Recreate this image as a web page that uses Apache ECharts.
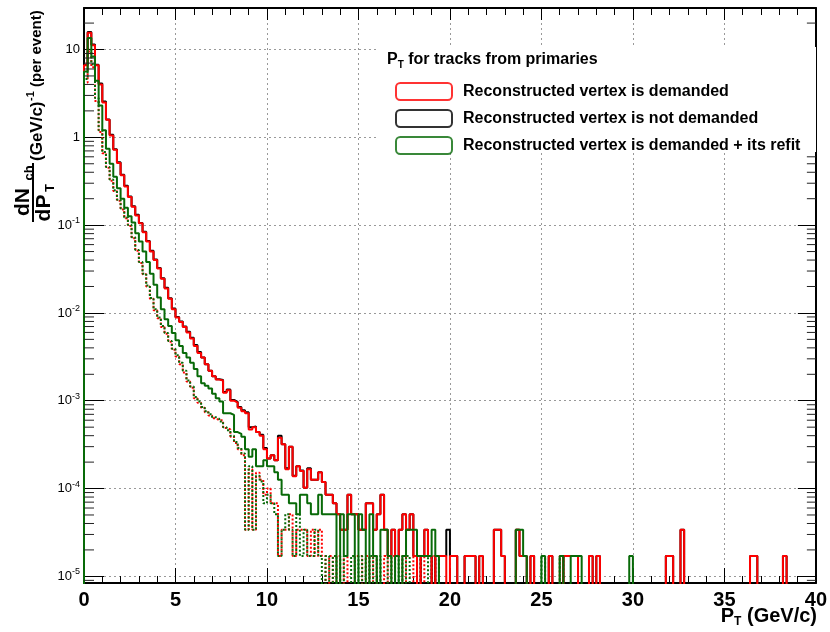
<!DOCTYPE html>
<html><head><meta charset="utf-8">
<script src="https://cdn.jsdelivr.net/npm/echarts@6/dist/echarts.min.js"></script>
<style>html,body{margin:0;padding:0;background:#fff}#c{width:830px;height:632px}</style>
</head><body><div id="c"></div>
<script>
// ---- data (0.2 GeV/c bins from 0 to 40) ----
const binWidth = 0.2;
const xMin = 0, xMax = 40, xStep = 5;
const yMin = 8.4e-6, yMax = 29.7;
const legendTitle = ['P', 'T', ' for tracks from primaries'];
const legendNames = ['Reconstructed vertex is demanded', 'Reconstructed vertex is not demanded', 'Reconstructed vertex is demanded + its refit'];

const vtxDemanded = [
  6.6, 15.5, 11.2, 6.6, 4.0, 2.5, 1.58, 1.05, 0.72, 0.51,
  0.37, 0.275, 0.209, 0.162, 0.129, 0.105, 0.083, 0.065, 0.050, 0.040,
  0.032, 0.0245, 0.019, 0.0145, 0.011, 0.0089, 0.0079, 0.0069, 0.0060, 0.0051,
  0.0042, 0.0035, 0.0031, 0.0026, 0.0022, 0.0019, 0.00174, 0.0017, 0.00123, 0.00132,
  0.001, 0.00095, 0.00083, 0.00076, 0.00072, 0.00047, 0.0005, 0.00044, 0.0004, 0.00028,
  0.00022, 0.00024, 0.00021, 0.00038, 0.00032, 0.000166, 0.0003, 0.000138, 0.00018, 0.000158,
  0.000102, 0.000166, 0.000126, 0.000126, 0.000153, 0.000119, 8.5e-5, 8.5e-5, 6.8e-5, 5.1e-5,
  3.4e-5, 3.4e-5, 8.5e-5, 5.1e-5, 5.1e-5, 3.4e-5, 3.4e-5, 6.8e-5, 6.8e-5, 3.4e-5,
  5.1e-5, 8.5e-5, 3.4e-5, 1.7e-5, 3.4e-5, 1.7e-5, 3.4e-5, 5.1e-5, 3.4e-5, 5.1e-5,
  1.7e-5, 0, 1.7e-5, 3.4e-5, 1.7e-5, 0, 1.7e-5, 1.7e-5, 1.7e-5, 0,
  1.7e-5, 1.7e-5, 0, 0, 1.7e-5, 1.7e-5, 1.7e-5, 0, 1.7e-5, 0,
  0, 0, 3.4e-5, 3.4e-5, 1.7e-5, 0, 0, 0, 3.4e-5, 1.7e-5,
  1.7e-5, 0, 1.7e-5, 0, 0, 0, 0, 1.7e-5, 0, 0,
  0, 1.7e-5, 1.7e-5, 1.7e-5, 1.7e-5, 0, 0, 0, 1.7e-5, 0,
  1.7e-5, 0, 0, 0, 0, 0, 0, 0, 0, 0,
  0, 0, 0, 0, 0, 0, 0, 0, 0, 1.7e-5,
  1.7e-5, 0, 0, 3.4e-5, 0, 0, 0, 0, 0, 0,
  0, 0, 0, 0, 0, 0, 0, 0, 0, 0,
  0, 0, 1.7e-5, 1.7e-5, 0, 0, 0, 0, 0, 0,
  0, 1.7e-5, 0, 0, 0, 0, 0, 0, 0, 0
];
const vtxNotDemanded = [
  6.7, 15.8, 11.4, 6.7, 4.1, 2.55, 1.6, 1.07, 0.73, 0.52,
  0.375, 0.28, 0.212, 0.164, 0.131, 0.106, 0.084, 0.066, 0.051, 0.0405,
  0.0325, 0.0248, 0.0193, 0.0147, 0.0112, 0.009, 0.008, 0.007, 0.0061, 0.0052,
  0.0043, 0.0036, 0.0031, 0.0026, 0.0022, 0.0019, 0.00176, 0.00172, 0.00126, 0.00134,
  0.00102, 0.00097, 0.00085, 0.00078, 0.00074, 0.0005, 0.00051, 0.00044, 0.00041, 0.00029,
  0.00022, 0.00024, 0.00021, 0.0004, 0.00032, 0.00017, 0.0003, 0.00014, 0.00018, 0.00016,
  0.000102, 0.00017, 0.000126, 0.000126, 0.000153, 0.000119, 8.5e-5, 8.5e-5, 6.8e-5, 5.1e-5,
  3.4e-5, 3.4e-5, 8.5e-5, 5.1e-5, 5.1e-5, 3.4e-5, 3.4e-5, 6.8e-5, 6.8e-5, 3.4e-5,
  5.1e-5, 8.5e-5, 3.4e-5, 1.7e-5, 3.4e-5, 1.7e-5, 3.4e-5, 5.1e-5, 3.4e-5, 5.1e-5,
  1.7e-5, 0, 1.7e-5, 3.4e-5, 1.7e-5, 0, 1.7e-5, 1.7e-5, 1.7e-5, 3.4e-5,
  1.7e-5, 1.7e-5, 0, 0, 1.7e-5, 1.7e-5, 1.7e-5, 0, 1.7e-5, 0,
  0, 0, 3.4e-5, 3.4e-5, 1.7e-5, 0, 0, 0, 3.4e-5, 1.7e-5,
  1.7e-5, 0, 1.7e-5, 0, 0, 0, 0, 1.7e-5, 0, 0,
  0, 1.7e-5, 1.7e-5, 1.7e-5, 1.7e-5, 0, 0, 0, 1.7e-5, 0,
  1.7e-5, 0, 0, 0, 0, 0, 0, 0, 0, 0,
  0, 0, 0, 0, 0, 0, 0, 0, 0, 1.7e-5,
  1.7e-5, 0, 0, 3.4e-5, 0, 0, 0, 0, 0, 0,
  0, 0, 0, 0, 0, 0, 0, 0, 0, 0,
  0, 0, 1.7e-5, 1.7e-5, 0, 0, 0, 0, 0, 0,
  0, 1.7e-5, 0, 0, 0, 0, 0, 0, 0, 0
];
const vtxRefit = [
  5.6, 13.5, 8.3, 4.4, 2.3, 1.2, 0.74, 0.50, 0.355, 0.263,
  0.20, 0.158, 0.126, 0.107, 0.081, 0.065, 0.050, 0.038, 0.028, 0.021,
  0.015, 0.011, 0.0085, 0.0071, 0.0059, 0.0049, 0.0042, 0.0035, 0.0031, 0.0027,
  0.0023, 0.0019, 0.00158, 0.00148, 0.00138, 0.0012, 0.00107, 0.00098, 0.00072, 0.00072,
  0.00069, 0.00044, 0.00042, 0.00039, 0.00028, 0.00023, 0.00028, 0.00018, 0.00018, 0.00021,
  0.00018, 0.00018, 0.000153, 0.000126, 8.5e-5, 8.5e-5, 6.8e-5, 6.8e-5, 5.1e-5, 8.5e-5,
  8.5e-5, 6.8e-5, 5.1e-5, 5.1e-5, 8.5e-5, 5.1e-5, 5.1e-5, 5.1e-5, 5.1e-5, 0,
  5.1e-5, 1.7e-5, 5.1e-5, 5.1e-5, 0, 5.1e-5, 3.4e-5, 0, 5.1e-5, 1.7e-5,
  0, 3.4e-5, 3.4e-5, 1.7e-5, 0, 1.7e-5, 0, 1.7e-5, 3.4e-5, 3.4e-5,
  3.4e-5, 1.7e-5, 1.7e-5, 1.7e-5, 1.7e-5, 3.4e-5, 1.7e-5, 0, 0, 0,
  0, 0, 0, 0, 0, 0, 0, 0, 0, 0,
  0, 0, 0, 0, 0, 0, 0, 0, 3.4e-5, 3.4e-5,
  1.7e-5, 0, 0, 0, 0, 1.7e-5, 0, 0, 0, 0,
  1.7e-5, 0, 0, 1.7e-5, 1.7e-5, 1.7e-5, 0, 0, 0, 0,
  0, 0, 0, 0, 0, 0, 0, 0, 0, 1.7e-5,
  0, 0, 0, 0, 0, 0, 0, 0, 0, 0,
  0, 0, 0, 0, 0, 0, 0, 0, 0, 0,
  0, 0, 0, 0, 0, 0, 0, 0, 0, 0,
  0, 0, 0, 0, 0, 0, 0, 0, 0, 0,
  0, 0, 0, 0, 0, 0, 0, 0, 0, 0
];
// lower dotted curves (not in the legend)
const dottedRed = [
  4.2, 9.5, 6.3, 2.6, 1.15, 0.66, 0.45, 0.32, 0.245, 0.19,
  0.151, 0.120, 0.098, 0.071, 0.051, 0.037, 0.0275, 0.020, 0.0145, 0.0107,
  0.0087, 0.0069, 0.0058, 0.0047, 0.0038, 0.0032, 0.0026, 0.0021, 0.00166, 0.00141,
  0.00107, 0.00095, 0.00083, 0.00074, 0.00068, 0.00063, 0.0006, 0.0006, 0.00049, 0.00047,
  0.00039, 0.00033, 0.00028, 0.00024, 3.4e-5, 0.000166, 3.4e-5, 0.000151, 0.000126, 8.5e-5,
  0.0001, 6.8e-5, 6.8e-5, 1.7e-5, 3.4e-5, 3.4e-5, 5.1e-5, 1.7e-5, 3.4e-5, 3.4e-5,
  3.4e-5, 1.7e-5, 3.4e-5, 1.7e-5, 3.4e-5, 1.7e-5, 0, 1.7e-5, 0, 1.7e-5,
  0, 1.7e-5, 0, 0, 1.7e-5, 1.7e-5, 0, 1.7e-5, 0, 1.7e-5,
  0, 0, 1.7e-5, 0, 1.7e-5, 0, 0, 1.7e-5, 0, 0,
  1.7e-5, 0, 1.7e-5, 0, 0, 1.7e-5, 0, 0, 0, 0,
  0, 0, 0, 0, 0, 0, 0, 0, 0, 0,
  0, 0, 0, 0, 0, 0, 0, 0, 0, 0,
  0, 0, 0, 0, 0, 0, 0, 0, 0, 0,
  1.7e-5, 0, 0, 0, 0, 0, 0, 0, 0, 0,
  0, 0, 0, 0, 0, 0, 0, 0, 0, 0,
  0, 0, 0, 0, 0, 0, 0, 0, 0, 0,
  0, 0, 0, 0, 0, 0, 0, 0, 0, 0,
  0, 0, 0, 0, 0, 0, 0, 0, 0, 0,
  0, 0, 0, 0, 0, 0, 0, 0, 0, 0,
  0, 0, 0, 0, 0, 0, 0, 0, 0, 0
];
const dottedGreen = [
  4.6, 10.2, 6.8, 2.8, 1.2, 0.68, 0.46, 0.33, 0.25, 0.195,
  0.155, 0.122, 0.100, 0.073, 0.052, 0.038, 0.028, 0.0205, 0.0148, 0.011,
  0.0089, 0.0071, 0.0059, 0.0048, 0.0039, 0.0033, 0.0027, 0.0022, 0.0017, 0.00145,
  0.0011, 0.00098, 0.00085, 0.00076, 0.0007, 0.00065, 0.00062, 0.00058, 0.0005, 0.00046,
  0.0004, 0.00034, 0.00029, 0.00025, 3.4e-5, 0.00018, 3.4e-5, 0.00014, 0.00012, 6.8e-5,
  8.5e-5, 6.8e-5, 5.1e-5, 1.7e-5, 3.4e-5, 5.1e-5, 3.4e-5, 1.7e-5, 5.1e-5, 1.7e-5,
  3.4e-5, 1.7e-5, 1.7e-5, 3.4e-5, 1.7e-5, 0, 1.7e-5, 0, 1.7e-5, 0,
  1.7e-5, 0, 0, 1.7e-5, 0, 1.7e-5, 0, 0, 1.7e-5, 0,
  1.7e-5, 0, 0, 1.7e-5, 0, 0, 1.7e-5, 0, 1.7e-5, 0,
  0, 1.7e-5, 0, 0, 1.7e-5, 0, 1.7e-5, 0, 0, 0,
  0, 0, 0, 0, 0, 0, 0, 0, 0, 0,
  0, 0, 0, 0, 0, 0, 0, 0, 0, 0,
  0, 0, 0, 0, 0, 1.7e-5, 0, 0, 0, 0,
  1.7e-5, 0, 0, 0, 0, 0, 0, 0, 0, 0,
  0, 0, 0, 0, 0, 0, 0, 0, 0, 0,
  0, 0, 0, 0, 0, 0, 0, 0, 0, 0,
  0, 0, 0, 0, 0, 0, 0, 0, 0, 0,
  0, 0, 0, 0, 0, 0, 0, 0, 0, 0,
  0, 0, 0, 0, 0, 0, 0, 0, 0, 0,
  0, 0, 0, 0, 0, 0, 0, 0, 0, 0
];

const RED = '#ff0000', BLACK = '#000000', GREEN = '#086a08';
const FONT = '"Liberation Sans", Arial, Helvetica, sans-serif';
const FLOOR = 1e-9; // empty bins fall below the axis and get clipped

function histPoints(vals) {
  const pts = [[xMin, FLOOR]];
  vals.forEach((v, i) => pts.push([+(i * binWidth).toFixed(2), v > 0 ? v : FLOOR]));
  const last = vals[vals.length - 1];
  pts.push([xMax, last > 0 ? last : FLOOR]);
  return pts;
}
function histSeries(name, vals, color, dash, z) {
  return {
    name: name, type: 'line', step: 'end', data: histPoints(vals),
    showSymbol: false, symbol: 'none', clip: true, z: z, silent: true,
    lineStyle: { color: color, width: 2, type: dash ? [2, 2] : 'solid', dashOffset: dash === 2 ? 2 : 0 },
    emphasis: { disabled: true }
  };
}
const yMinorVals = [];
for (let e = -6; e <= 1; e++) for (let m = 2; m <= 9; m++) {
  const v = m * Math.pow(10, e);
  if (v > yMin && v < yMax) yMinorVals.push(v);
}
function yLabel(v) {
  const e = Math.log10(v), r = Math.round(e);
  if (Math.abs(e - r) > 1e-6) return '';
  if (r === 0) return '{b|1}';
  if (r === 1) return '{b|10}';
  return '{b|10}{s|' + r + '}';
}

const chart = echarts.init(document.getElementById('c'), null, { renderer: 'canvas' });
const legendColors = [RED, BLACK, GREEN];
const option = {
  animation: false,
  backgroundColor: '#ffffff',
  grid: { left: 84, right: 12, top: 8, bottom: 49, containLabel: false },
  xAxis: [
    { type: 'value', min: xMin, max: xMax, interval: xStep, position: 'bottom',
      axisLine: { show: true, onZero: false, lineStyle: { color: '#000', width: 2 } },
      axisTick: { show: true, inside: true, length: 15, lineStyle: { color: '#000', width: 1 } },
      minorTick: { show: true, splitNumber: 5, length: 7, lineStyle: { color: '#000', width: 1 } },
      axisLabel: { show: true, margin: 7, color: '#000', fontFamily: FONT, fontWeight: 'bold', fontSize: 20 },
      splitLine: { show: true, lineStyle: { color: '#999', width: 1, type: [2, 3] } } },
    { type: 'value', min: xMin, max: xMax, interval: xStep, position: 'top',
      axisLine: { show: true, onZero: false, lineStyle: { color: '#000', width: 2 } },
      axisTick: { show: true, inside: true, length: 12, lineStyle: { color: '#000', width: 1 } },
      minorTick: { show: true, splitNumber: 5, length: 7, lineStyle: { color: '#000', width: 1 } },
      axisLabel: { show: false }, splitLine: { show: false } }
  ],
  yAxis: [
    { type: 'log', logBase: 10, min: yMin, max: yMax, position: 'left',
      axisLine: { show: true, onZero: false, lineStyle: { color: '#000', width: 2 } },
      axisTick: { show: true, inside: true, length: 20, lineStyle: { color: '#000', width: 1 } },
      axisLabel: { show: true, margin: 4, formatter: yLabel, color: '#000',
        rich: { b: { fontFamily: FONT, fontSize: 13, lineHeight: 18, color: '#000' },
                s: { fontFamily: FONT, fontSize: 9, verticalAlign: 'top', color: '#000' } } },
      splitLine: { show: true, lineStyle: { color: '#999', width: 1, type: [2, 3] } } },
    { type: 'log', logBase: 10, min: yMin, max: yMax, position: 'right',
      axisLine: { show: true, onZero: false, lineStyle: { color: '#000', width: 2 } },
      axisTick: { show: true, inside: true, length: 18, lineStyle: { color: '#000', width: 1 } },
      axisLabel: { show: false }, splitLine: { show: false } }
  ],
  legend: {
    show: true, orient: 'vertical', left: 390, top: 77, itemWidth: 56, itemHeight: 17, itemGap: 8,
    z: 10, selectedMode: false,
    data: legendNames.map((n, i) => ({ name: n, icon: 'roundRect',
      itemStyle: { color: '#fff', borderColor: legendColors[i], borderWidth: 2 } })),
    textStyle: { fontFamily: FONT, fontWeight: 'bold', fontSize: 16, color: '#000', padding: [0, 0, 0, 6] }
  },
  graphic: [
    { type: 'rect', shape: { x: 378, y: 47, width: 438, height: 105 }, style: { fill: '#fff' }, z: 8, silent: true },
    { type: 'text', x: 387, y: 60, z: 11, silent: true,
      style: { text: '{b|' + legendTitle[0] + '}{s|' + legendTitle[1] + '}{b|' + legendTitle[2] + '}',
        verticalAlign: 'middle', align: 'left',
        rich: { b: { fontFamily: FONT, fontWeight: 'bold', fontSize: 16, lineHeight: 20, fill: '#000' },
                s: { fontFamily: FONT, fontWeight: 'bold', fontSize: 10, verticalAlign: 'bottom', fill: '#000' } } } },
    // x axis title
    { type: 'text', x: 817, y: 616, silent: true,
      style: { text: '{b|P}{s|T}{b| (GeV/c)}', align: 'right', verticalAlign: 'middle',
        rich: { b: { fontFamily: FONT, fontWeight: 'bold', fontSize: 20, lineHeight: 24, fill: '#000' },
                s: { fontFamily: FONT, fontWeight: 'bold', fontSize: 12, verticalAlign: 'bottom', fill: '#000' } } } },
    // y axis title (rotated)
    { type: 'text', x: 23, y: 202, rotation: Math.PI / 2, silent: true,
      style: { text: 'dN', font: 'bold 21px ' + FONT, align: 'center', verticalAlign: 'middle', fill: '#000' } },
    { type: 'text', x: 29, y: 173, rotation: Math.PI / 2, silent: true,
      style: { text: 'ch', font: 'bold 13px ' + FONT, align: 'center', verticalAlign: 'middle', fill: '#000' } },
    { type: 'line', shape: { x1: 33, y1: 163, x2: 33, y2: 222 }, style: { stroke: '#000', lineWidth: 2 }, silent: true },
    { type: 'text', x: 44, y: 208, rotation: Math.PI / 2, silent: true,
      style: { text: 'dP', font: 'bold 21px ' + FONT, align: 'center', verticalAlign: 'middle', fill: '#000' } },
    { type: 'text', x: 50, y: 188, rotation: Math.PI / 2, silent: true,
      style: { text: 'T', font: 'bold 13px ' + FONT, align: 'center', verticalAlign: 'middle', fill: '#000' } },
    { type: 'text', x: 37, y: 161, rotation: Math.PI / 2, silent: true,
      style: { text: '(GeV/c)', font: 'bold 17px ' + FONT, align: 'left', verticalAlign: 'middle', fill: '#000' } },
    { type: 'text', x: 31, y: 96, rotation: Math.PI / 2, silent: true,
      style: { text: '-1', font: 'bold 11px ' + FONT, align: 'center', verticalAlign: 'middle', fill: '#000' } },
    { type: 'text', x: 37, y: 87, rotation: Math.PI / 2, silent: true,
      style: { text: '(per event)', font: 'bold 15px ' + FONT, align: 'left', verticalAlign: 'middle', fill: '#000' } }
  ],
  series: [
    histSeries('dotted red', dottedRed, RED, 1, 2),
    histSeries('dotted green', dottedGreen, GREEN, 2, 2),
    histSeries('not demanded line', vtxNotDemanded, BLACK, 0, 3),
    histSeries('demanded line', vtxDemanded, RED, 0, 4),
    histSeries('refit line', vtxRefit, GREEN, 0, 5),
    // legend-only entries (hollow boxes)
    ...legendNames.map((n, i) => ({ name: n, type: 'scatter', data: [], symbol: 'roundRect',
      itemStyle: { color: '#fff', borderColor: legendColors[i], borderWidth: 2 } })),
    // minor ticks of the log axis (2..9 per decade) on both sides
    { type: 'custom', coordinateSystem: 'cartesian2d', silent: true, z: 6, clip: false,
      data: yMinorVals.map(v => [xMin, v]), encode: { x: 0, y: 1 },
      renderItem: function (params, api) {
        const v = api.value(1);
        const pL = api.coord([xMin, v]);
        const pR = api.coord([xMax, v]);
        return { type: 'group', children: [
          { type: 'line', shape: { x1: pL[0], y1: pL[1], x2: pL[0] + 10, y2: pL[1] }, style: { stroke: '#222', lineWidth: 1 } },
          { type: 'line', shape: { x1: pR[0], y1: pR[1], x2: pR[0] - 9, y2: pR[1] }, style: { stroke: '#222', lineWidth: 1 } }
        ] };
      } }
  ]
};
chart.setOption(option);
</script>
</body></html>
